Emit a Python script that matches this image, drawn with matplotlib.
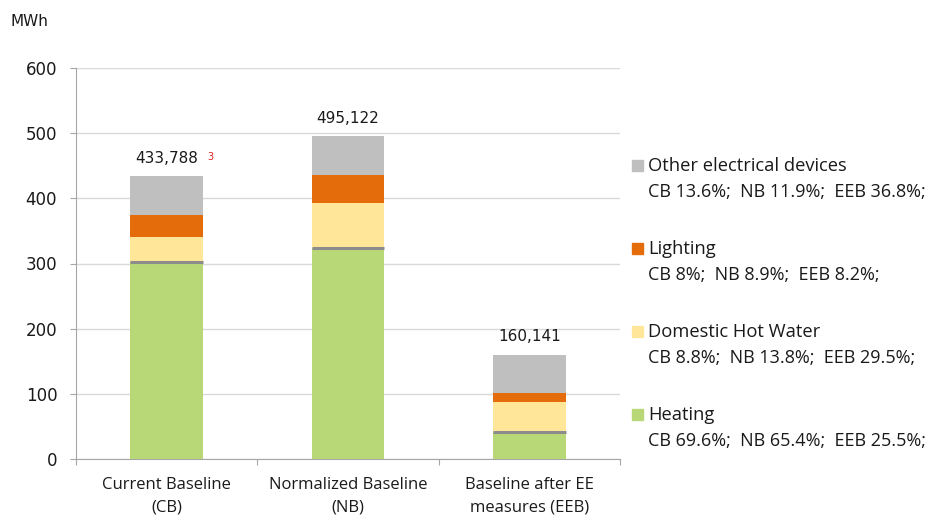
import matplotlib
matplotlib.use("Agg")
import matplotlib.pyplot as plt
from matplotlib.patches import Rectangle
import numpy as np

# Scenarios and their total consumption (MWh)
categories = ["Current Baseline\n(CB)", "Normalized Baseline\n(NB)", "Baseline after EE\nmeasures (EEB)"]
totals = [433.788, 495.122, 160.141]
total_labels = ["433,788", "495,122", "160,141"]

# Share of each end use in the totals (%), bottom to top
heating_pct = [69.6, 65.4, 25.5]
dhw_pct = [8.8, 13.8, 29.5]
lighting_pct = [8.0, 8.9, 8.2]
other_pct = [13.6, 11.9, 36.8]

series_names = ["Heating", "Domestic Hot Water", "Lighting", "Other electrical devices"]
series_pct = [heating_pct, dhw_pct, lighting_pct, other_pct]
colors = ["#B8D878", "#FFE699", "#E46C0A", "#BFBFBF"]

W, H = 934, 518
fig = plt.figure(figsize=(W / 100, H / 100), dpi=100)
ax = fig.add_axes([76 / W, 1 - 459 / H, 544 / W, 391 / H])

x = np.arange(len(categories))
bottom = np.zeros(len(categories))
tot = np.array(totals)
heating_top = None
for name, pct, c in zip(series_names, series_pct, colors):
    vals = tot * np.array(pct) / 100.0
    ax.bar(x, vals, width=0.4, bottom=bottom, color=c, zorder=3, linewidth=0)
    bottom = bottom + vals
    if heating_top is None:
        heating_top = bottom.copy()

# thin grey cap on the heating segment
ax.hlines(heating_top, x - 0.2, x + 0.2, colors="#8C8C8C", linewidth=2.2, zorder=4)

# total labels
for xi, t, lab in zip(x, totals, total_labels):
    ax.text(xi, t + 16, lab, ha="center", va="bottom", fontsize=11,
            family="DejaVu Sans", color="#1a1a1a", zorder=5)
ax.text(x[0] + 0.225, totals[0] + 22, "3", ha="left", va="bottom", fontsize=7,
        color="#E02020", family="DejaVu Sans")

ax.set_xlim(-0.5, len(categories) - 0.5)
ax.set_ylim(0, 600)
ax.set_yticks(np.arange(0, 601, 100))
ax.yaxis.grid(True, color="#D9D9D9", linewidth=1, zorder=0)
ax.set_axisbelow(True)

ax.set_xticks(np.arange(-0.5, len(categories), 1.0))
ax.set_xticklabels([])
ax.tick_params(axis="x", length=4.5, color="#A6A6A6", direction="out")
ax.tick_params(axis="y", length=4.5, color="#A6A6A6", direction="out", labelsize=12,
               labelcolor="#1a1a1a", pad=9)
for lab in ax.get_yticklabels():
    lab.set_family("DejaVu Sans")

for s in ["top", "right"]:
    ax.spines[s].set_visible(False)
for s in ["left", "bottom"]:
    ax.spines[s].set_color("#A6A6A6")

# category labels
for xi, cat in zip(x, categories):
    ax.text(xi, -0.045, cat, transform=ax.get_xaxis_transform(), ha="center",
            va="top", fontsize=12, family="Open Sans", color="#1a1a1a",
            linespacing=1.55)

fig.text(10 / W, 1 - 22 / H, "MWh", fontsize=11, family="DejaVu Sans",
         color="#1a1a1a", va="center")

# legend with per-scenario shares
legend_rows = [
    ("Other electrical devices", other_pct, colors[3], 166),
    ("Lighting", lighting_pct, colors[2], 249),
    ("Domestic Hot Water", dhw_pct, colors[1], 332),
    ("Heating", heating_pct, colors[0], 415),
]
scen = ["CB", "NB", "EEB"]
for name, pct, c, yc in legend_rows:
    fig.patches.append(Rectangle((632 / W, 1 - (yc + 5) / H), 11 / W, 11 / H,
                                 transform=fig.transFigure, color=c))
    fig.text(648 / W, 1 - yc / H, name, fontsize=13.2, family="Open Sans",
             va="center", color="#1a1a1a")
    share = "  ".join(f"{s} {p:g}%;" for s, p in zip(scen, pct))
    fig.text(648 / W, 1 - (yc + 26) / H, share, fontsize=13.0, family="Open Sans",
             va="center", color="#1a1a1a")

fig.savefig("out.png", dpi=100, facecolor="white")
